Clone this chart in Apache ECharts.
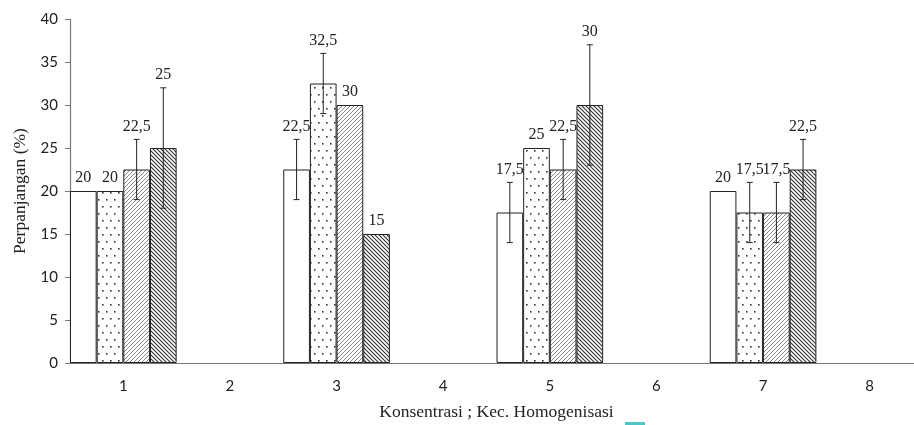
<!DOCTYPE html>
<html>
<head>
<meta charset="utf-8">
<script src="https://cdn.jsdelivr.net/npm/echarts@6/dist/echarts.min.js"></script>
<style>
  html, body { margin: 0; padding: 0; background: #fff; }
  #chart { width: 914px; height: 425px; }
</style>
</head>
<body>
<div id="chart"></div>
<script>
// categories on x axis
const categories = ['1', '2', '3', '4', '5', '6', '7', '8'];

// bar values (%)
const putih  = [20, null, 22.5, null, 17.5, null, 20, null];
const titik  = [20, null, 32.5, null, 25, null, 17.5, null];
const miring = [22.5, null, 30, null, 22.5, null, 17.5, null];
const garis  = [25, null, 15, null, 30, null, 22.5, null];

// error half-widths
const errPutih  = [0, null, 3.5, null, 3.5, null, 0, null];
const errTitik  = [0, null, 3.5, null, 0, null, 3.5, null];
const errMiring = [3.5, null, 0, null, 3.5, null, 3.5, null];
const errGaris  = [7, null, 0, null, 7, null, 3.5, null];

const yTicks = [0, 5, 10, 15, 20, 25, 30, 35, 40];

function makeCanvas(w, h, draw) {
  const c = document.createElement('canvas');
  c.width = w; c.height = h;
  const ctx = c.getContext('2d');
  ctx.fillStyle = '#fff';
  ctx.fillRect(0, 0, w, h);
  draw(ctx);
  return c;
}

const dots = makeCanvas(8, 14, ctx => {
  ctx.fillStyle = '#333';
  ctx.fillRect(2, 3, 1.6, 1.6);
  ctx.fillRect(6, 10, 1.6, 1.6);
});

function hatch(dir, color, lw) {
  const s = 4;
  return makeCanvas(s, s, ctx => {
    ctx.strokeStyle = color;
    ctx.lineWidth = lw;
    ctx.beginPath();
    if (dir > 0) {
      ctx.moveTo(0, s); ctx.lineTo(s, 0);
      ctx.moveTo(-1, 1); ctx.lineTo(1, -1);
      ctx.moveTo(s - 1, s + 1); ctx.lineTo(s + 1, s - 1);
    } else {
      ctx.moveTo(0, 0); ctx.lineTo(s, s);
      ctx.moveTo(-1, s - 1); ctx.lineTo(1, s + 1);
      ctx.moveTo(s - 1, -1); ctx.lineTo(s + 1, 1);
    }
    ctx.stroke();
  });
}

const fills = [
  '#fff',
  {image: dots, repeat: 'repeat'},
  {image: hatch(1, '#888', 1), repeat: 'repeat'},
  {image: hatch(-1, '#333', 1.1), repeat: 'repeat'}
];

const values = [putih, titik, miring, garis];
const errors = [errPutih, errTitik, errMiring, errGaris];

const errData = [];
values.forEach((arr, si) => {
  arr.forEach((v, ci) => {
    if (v != null) errData.push([ci, si, v, errors[si][ci]]);
  });
});

const fmt = v => String(v).replace('.', ',');

const chart = echarts.init(document.getElementById('chart'));
chart.setOption({
  animation: false,
  grid: {left: 70, right: -9, top: 19, bottom: 62, outerBoundsMode: 'none', containLabel: false},
  xAxis: {
    type: 'category',
    data: categories,
    name: 'Konsentrasi ; Kec. Homogenisasi',
    nameLocation: 'middle',
    nameGap: 40,
    nameTextStyle: {fontFamily: 'Liberation Serif', fontSize: 17.5, color: '#222'},
    axisLine: {lineStyle: {color: '#777', width: 1.2}},
    axisTick: {length: 5, lineStyle: {color: '#777'}},
    axisLabel: {fontFamily: 'Lato', fontSize: 15, color: '#222', margin: 16}
  },
  yAxis: {
    type: 'value',
    min: yTicks[0],
    max: yTicks[yTicks.length - 1],
    interval: 5,
    name: 'Perpanjangan (%)',
    nameLocation: 'middle',
    nameGap: 41,
    nameTextStyle: {fontFamily: 'Liberation Serif', fontSize: 17.5, color: '#222'},
    axisLine: {show: true, lineStyle: {color: '#777', width: 1.2}},
    axisTick: {show: true, length: 5, lineStyle: {color: '#777'}},
    splitLine: {show: false},
    axisLabel: {fontFamily: 'Lato', fontSize: 15, color: '#222', margin: 12}
  },
  series: values.map((arr, si) => ({
    type: 'bar',
    data: arr,
    barGap: '0%',
    barCategoryGap: '0%',
    itemStyle: {color: fills[si], borderColor: '#222', borderWidth: 1}
  })).concat([{
    type: 'custom',
    data: errData,
    z: 10,
    renderItem(params, api) {
      const ci = api.value(0), si = api.value(1), v = api.value(2), e = api.value(3);
      const bw = api.size([1, 0])[0];
      const x = api.coord([ci, 0])[0] + (si - 1.5) * bw / 4;
      const yTop = api.coord([ci, v + e])[1];
      const yBot = api.coord([ci, v - e])[1];
      const st = {stroke: '#222', lineWidth: 1};
      const kids = [];
      if (e > 0) {
        kids.push({type: 'line', shape: {x1: x, y1: yTop, x2: x, y2: yBot}, style: st});
        kids.push({type: 'line', shape: {x1: x - 3, y1: yTop, x2: x + 3, y2: yTop}, style: st});
        kids.push({type: 'line', shape: {x1: x - 3, y1: yBot, x2: x + 3, y2: yBot}, style: st});
      }
      kids.push({
        type: 'text',
        style: {
          x: x, y: yTop - 5,
          text: fmt(v),
          fill: '#222',
          font: '16px "Liberation Serif"',
          textAlign: 'center',
          textVerticalAlign: 'bottom'
        }
      });
      return {type: 'group', children: kids};
    }
  }]),
  graphic: [{
    type: 'rect',
    left: 625, top: 422,
    shape: {width: 20, height: 3},
    style: {fill: '#4cc6c6'}
  }]
});
</script>
</body>
</html>
